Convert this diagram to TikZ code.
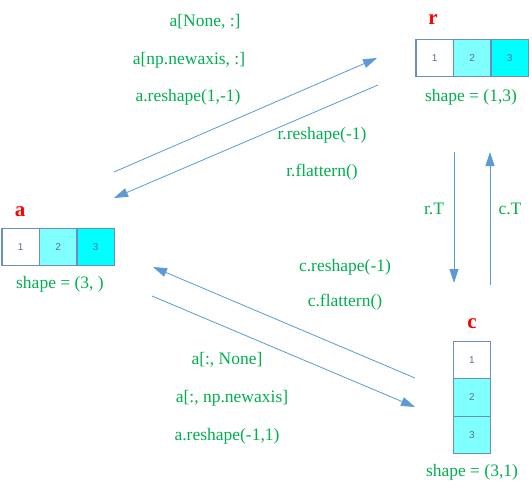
\documentclass[tikz,border=0pt]{standalone}
\usepackage{fontspec}
\setmainfont{Liberation Serif}
\setsansfont{Liberation Sans}
\usetikzlibrary{arrows.meta, positioning}
\definecolor{cellline}{RGB}{108,142,191}
\definecolor{lightcyan}{RGB}{128,255,255}
\definecolor{fullcyan}{RGB}{0,255,255}
\definecolor{arrowblue}{RGB}{91,155,213}
\definecolor{codegreen}{RGB}{0,176,80}
\definecolor{numgray}{RGB}{90,110,150}

\begin{document}
\begin{tikzpicture}[x=1pt, y=-1pt,
    cell/.style={rectangle, draw=cellline, line width=1.2pt, minimum width=37.5pt,
      minimum height=37.5pt, inner sep=0pt, outer sep=0pt,
      font=\sffamily\fontsize{10}{11}\selectfont, text=numgray},
    arrname/.style={text=red, font=\bfseries\fontsize{21}{24}\selectfont},
    dims/.style={text=codegreen, font=\fontsize{17.5}{20}\selectfont},
    op/.style={text=codegreen, font=\fontsize{17.5}{20}\selectfont},
    link/.style={-{Triangle[length=14pt, width=9pt]}, line width=0.8pt, draw=arrowblue}
  ]
  \useasboundingbox[fill=white] (0,0) rectangle (532,493);

  \node[cell] (a1) at (20.75,247) {1};
  \node[cell, fill=lightcyan, right=0pt of a1] (a2) {2};
  \node[cell, fill=fullcyan, right=0pt of a2] (a3) {3};
  \node[arrname] (aname) at (20,212) {a};
  \node[dims] (adims) at (60,284) {shape = (3, )};

  \node[cell] (r1) at (434.75,58) {1};
  \node[cell, fill=lightcyan, right=0pt of r1] (r2) {2};
  \node[cell, fill=fullcyan, right=0pt of r2] (r3) {3};
  \node[arrname] (rname) at (433,20) {r};
  \node[dims] (rdims) at (471,97) {shape = (1,3)};

  \node[cell] (c1) at (472,360) {1};
  \node[cell, fill=lightcyan, below=0pt of c1] (c2) {2};
  \node[cell, fill=lightcyan, below=0pt of c2] (c3) {3};
  \node[arrname] (cname) at (472,324) {c};
  \node[dims] (cdims) at (472,472) {shape = (3,1)};

  \node[op] (op1) at (205,22) {a[None, :]};
  \node[op] (op2) at (189,60) {a[np.newaxis, :]};
  \node[op] (op3) at (188,97) {a.reshape(1,-1)};
  \node[op] (op4) at (322,135) {r.reshape(-1)};
  \node[op] (op5) at (322,172) {r.flattern()};
  \node[op] (op6) at (434,209) {r.T};
  \node[op] (op7) at (510,209) {c.T};
  \node[op] (op8) at (345,267) {c.reshape(-1)};
  \node[op] (op9) at (345,302) {c.flattern()};
  \node[op] (op10) at (227,360) {a[:, None]};
  \node[op] (op11) at (232,398) {a[:, np.newaxis]};
  \node[op] (op12) at (227,436) {a.reshape(-1,1)};

  \coordinate (ar1) at (114,172);
  \coordinate (ar2) at (377,58);
  \coordinate (ra1) at (378,85);
  \coordinate (ra2) at (114,198);
  \coordinate (rc1) at (454,152);
  \coordinate (rc2) at (454,283);
  \coordinate (cr1) at (490,285);
  \coordinate (cr2) at (490,152);
  \coordinate (ca1) at (415,378);
  \coordinate (ca2) at (153,267);
  \coordinate (ac1) at (152,296);
  \coordinate (ac2) at (415,407);

  \draw[link] (ar1) -- (ar2);
  \draw[link] (ra1) -- (ra2);
  \draw[link] (rc1) -- (rc2);
  \draw[link] (cr1) -- (cr2);
  \draw[link] (ca1) -- (ca2);
  \draw[link] (ac1) -- (ac2);
\end{tikzpicture}
\end{document}
